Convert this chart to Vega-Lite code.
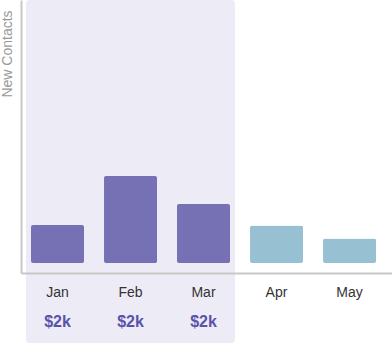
{
  "$schema": "https://vega.github.io/schema/vega-lite/v6.json",
  "width": 371,
  "height": 273,
  "autosize": {"type": "none"},
  "padding": {"left": 21, "top": 0, "right": 0, "bottom": 71},
  "background": "white",
  "config": {"view": {"stroke": null}, "font": "Liberation Sans"},
  "data": {"values": [
    {"month": "Jan", "contacts": 38, "status": "actual", "revenue": "$2k"},
    {"month": "Feb", "contacts": 87, "status": "actual", "revenue": "$2k"},
    {"month": "Mar", "contacts": 59, "status": "actual", "revenue": "$2k"},
    {"month": "Apr", "contacts": 37.5, "status": "projected", "revenue": ""},
    {"month": "May", "contacts": 24.5, "status": "projected", "revenue": ""}
  ]},
  "encoding": {
    "x": {
      "field": "month", "type": "nominal",
      "scale": {"domain": ["Jan", "Feb", "Mar", "Apr", "May"], "paddingInner": 0.274, "paddingOuter": 0.178, "align": 0.385},
      "axis": {"title": null, "labels": false, "ticks": false, "grid": false, "domainColor": "#c8c8c8", "domainWidth": 2, "zindex": 1}
    }
  },
  "layer": [
    {
      "data": {"values": [{"start": "Jan", "end": "Mar", "top": 263, "bottom": -80}]},
      "mark": {"type": "rect", "color": "#edebf5", "xOffset": -5, "x2Offset": 5, "cornerRadius": 3},
      "encoding": {
        "x": {"field": "start", "type": "nominal", "bandPosition": 0},
        "x2": {"field": "end", "bandPosition": 1},
        "y": {"field": "top", "type": "quantitative"},
        "y2": {"field": "bottom"}
      }
    },
    {
      "mark": {"type": "bar", "cornerRadius": 2},
      "encoding": {
        "y": {
          "field": "contacts", "type": "quantitative",
          "scale": {"domain": [-10, 263], "nice": false, "zero": false},
          "axis": {"title": "New Contacts", "titleColor": "#999999", "titleFontSize": 14, "titleFontWeight": "normal", "titleAngle": -90, "titleX": -13.5, "titleY": 53.5, "titleAlign": "center", "titleBaseline": "middle", "labels": false, "ticks": false, "grid": false, "domainColor": "#c8c8c8", "domainWidth": 2, "zindex": 1}
        },
        "color": {
          "field": "status", "type": "nominal",
          "scale": {"domain": ["actual", "projected"], "range": ["#7671b4", "#97c1d3"]},
          "legend": null
        }
      }
    },
    {
      "mark": {"type": "text", "fontSize": 14, "color": "#333333", "baseline": "middle"},
      "encoding": {
        "y": {"datum": -30},
        "text": {"field": "month"}
      }
    },
    {
      "transform": [{"filter": "datum.revenue != ''"}],
      "mark": {"type": "text", "fontSize": 16, "fontWeight": "bold", "color": "#5a52ad", "baseline": "middle"},
      "encoding": {
        "y": {"datum": -59},
        "text": {"field": "revenue"}
      }
    }
  ]
}
